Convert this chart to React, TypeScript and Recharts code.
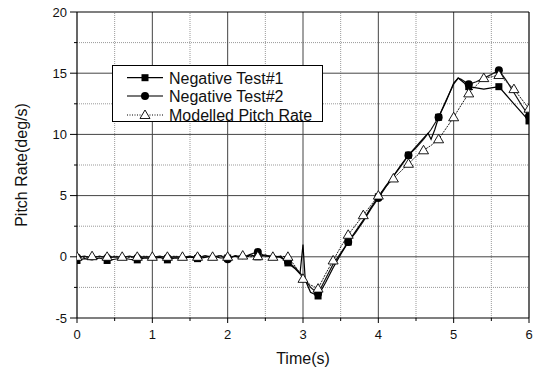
import React from "react";
import {
  ComposedChart,
  Line,
  Scatter,
  XAxis,
  YAxis,
  ReferenceLine,
  Label,
} from "recharts";

const FONT = "Liberation Sans, Arial, sans-serif";
const textStyle = { fontFamily: FONT };

// axis ticks
const X_TICKS = [0, 0.5, 1, 1.5, 2, 2.5, 3, 3.5, 4, 4.5, 5, 5.5, 6];
const Y_TICKS = [-5, -2.5, 0, 2.5, 5, 7.5, 10, 12.5, 15, 17.5, 20];
const X_MAJOR_GRID = [1, 2, 3, 4, 5];
const X_MINOR_GRID = [0.5, 1.5, 2.5, 3.5, 4.5, 5.5];
const Y_MAJOR_GRID = [0, 5, 10, 15];
const Y_MINOR_GRID = [-2.5, 2.5, 7.5, 12.5, 17.5];

// Negative Test#1 (squares)
const TEST1_TIME = [
  0, 0.1, 0.2, 0.3, 0.4, 0.5, 0.6, 0.7, 0.8, 0.9, 1.0, 1.1, 1.2, 1.3, 1.4, 1.5,
  1.6, 1.7, 1.8, 1.9, 2.0, 2.1, 2.2, 2.3, 2.4, 2.5, 2.6, 2.7, 2.8, 2.9, 2.96, 3.0,
  3.03, 3.1, 3.2, 3.3, 3.4, 3.5, 3.6, 3.7, 3.8, 3.9, 4.0, 4.1, 4.2, 4.3, 4.4, 4.5,
  4.6, 4.66, 4.7, 4.75, 4.8, 4.9, 5.0, 5.06, 5.1, 5.2, 5.3, 5.4, 5.5, 5.6, 5.7,
  5.8, 5.9, 6.0,
];
const TEST1 = [
  -0.3, -0.15, -0.25, -0.1, -0.3, -0.2, -0.1, -0.2, -0.25, -0.1, -0.15, -0.05,
  -0.25, -0.1, -0.15, 0, -0.15, -0.05, 0.1, -0.1, -0.1, 0.05, -0.15, 0.15, 0,
  0.15, -0.1, 0.05, -0.5, -1.0, -1.4, 1.0, -1.9, -2.9, -3.2, -2.1, -0.9, 0.2, 1.2,
  2.1, 3.0, 4.0, 4.9, 5.8, 6.6, 7.5, 8.3, 9.0, 9.7, 10.1, 9.6, 10.4, 11.4, 12.7,
  14.2, 14.6, 14.4, 13.9, 13.8, 13.7, 13.8, 13.9, 13.2, 12.5, 11.8, 11.1,
];

// Negative Test#2 (circles)
const TEST2_TIME = [
  0, 0.1, 0.2, 0.3, 0.4, 0.5, 0.6, 0.7, 0.8, 0.9, 1.0, 1.1, 1.2, 1.3, 1.4, 1.5,
  1.6, 1.7, 1.8, 1.9, 2.0, 2.1, 2.2, 2.3, 2.4, 2.5, 2.6, 2.7, 2.8, 2.9, 3.0, 3.1,
  3.2, 3.3, 3.4, 3.5, 3.6, 3.7, 3.8, 3.9, 4.0, 4.1, 4.2, 4.3, 4.4, 4.5, 4.6, 4.7,
  4.8, 4.9, 5.0, 5.06, 5.1, 5.2, 5.3, 5.4, 5.5, 5.6, 5.7, 5.8, 5.9, 6.0,
];
const TEST2 = [
  -0.05, 0.05, -0.1, 0.05, -0.1, 0, -0.05, 0.05, -0.1, 0, -0.05, 0.05, -0.1, 0,
  -0.05, 0.05, -0.1, 0.1, -0.05, 0.1, -0.2, 0.1, -0.05, 0.2, 0.4, 0.05, 0.1,
  -0.05, -0.4, -0.9, -1.6, -2.5, -3.0, -1.8, -0.6, 0.3, 1.2, 2.0, 2.9, 3.9, 4.8,
  5.7, 6.6, 7.4, 8.3, 8.9, 9.6, 10.4, 11.4, 12.8, 14.1, 14.6, 14.5, 14.1, 14.3,
  14.6, 14.9, 15.25, 14.4, 13.4, 12.4, 11.5,
];

// Modelled Pitch Rate (triangles)
const MODEL_TIME = [
  0, 0.1, 0.2, 0.3, 0.4, 0.5, 0.6, 0.7, 0.8, 0.9, 1.0, 1.1, 1.2, 1.3, 1.4, 1.5,
  1.6, 1.7, 1.8, 1.9, 2.0, 2.1, 2.2, 2.3, 2.4, 2.5, 2.6, 2.7, 2.8, 2.9, 3.0, 3.1,
  3.2, 3.3, 3.4, 3.5, 3.6, 3.7, 3.8, 3.9, 4.0, 4.1, 4.2, 4.3, 4.4, 4.5, 4.6, 4.7,
  4.8, 4.9, 5.0, 5.1, 5.2, 5.3, 5.4, 5.5, 5.6, 5.7, 5.8, 5.9, 6.0,
];
const MODEL = [
  0, -0.05, 0.05, 0, 0, 0.05, 0, -0.05, 0, 0.05, 0, 0, 0, 0.05, 0, -0.05, 0,
  0.05, 0, 0.1, 0, 0.05, 0.1, 0, 0.05, 0.1, 0, 0.05, 0, -0.8, -1.8, -2.3, -2.6,
  -1.4, -0.3, 0.8, 1.8, 2.6, 3.4, 4.2, 5.0, 5.7, 6.4, 7.0, 7.6, 8.2, 8.7, 9.1,
  9.6, 10.5, 11.4, 12.4, 13.35, 14.0, 14.6, 14.7, 14.85, 14.3, 13.7, 12.9, 12.1,
];

const toPoints = (times: number[], values: number[]) =>
  times.map((t, i) => ({ t, v: values[i] }));

const onStep = (t: number, step: number) =>
  Math.abs(t / step - Math.round(t / step)) < 1e-6;

const test1Data = toPoints(TEST1_TIME, TEST1);
const test2Data = toPoints(TEST2_TIME, TEST2);
const modelData = toPoints(MODEL_TIME, MODEL);

const test1Marks = test1Data.filter((p) => onStep(p.t, 0.4));
const test2Marks = test2Data.filter((p) => onStep(p.t, 0.4));
const modelMarks = modelData.filter((p) => onStep(p.t, 0.2));

const SquareMark = ({ cx, cy }: any) => (
  <rect x={cx - 3.5} y={cy - 3.5} width={7} height={7} fill="#000" />
);
const CircleMark = ({ cx, cy }: any) => <circle cx={cx} cy={cy} r={4} fill="#000" />;
const TriangleMark = ({ cx, cy }: any) => (
  <path
    d={`M${cx},${cy - 5}L${cx + 5},${cy + 3.5}L${cx - 5},${cy + 3.5}Z`}
    fill="#fff"
    stroke="#000"
    strokeWidth={0.9}
  />
);

const XTick = ({ x, y, payload }: any) => {
  const major = Number.isInteger(payload.value);
  return (
    <g>
      <line x1={x} x2={x} y1={y} y2={y + (major ? 5 : 3)} stroke="#000" />
      {major && (
        <text x={x} y={y + 21} textAnchor="middle" fontSize={13} style={textStyle} fill="#111">
          {payload.value}
        </text>
      )}
    </g>
  );
};

const YTick = ({ x, y, payload }: any) => {
  const major = payload.value % 5 === 0;
  return (
    <g>
      <line x1={x - (major ? 7 : 3)} x2={x} y1={y} y2={y} stroke="#000" />
      {major && (
        <text x={x - 10} y={y + 4.5} textAnchor="end" fontSize={13} style={textStyle} fill="#111">
          {payload.value}
        </text>
      )}
    </g>
  );
};

const XTitle = () => (
  <text x={303} y={364} textAnchor="middle" fontSize={16} style={textStyle} fill="#111">
    Time(s)
  </text>
);

const YTitle = () => (
  <text
    x={0}
    y={0}
    transform="translate(27,165) rotate(-90)"
    textAnchor="middle"
    fontSize={16}
    style={textStyle}
    fill="#111"
  >
    Pitch Rate(deg/s)
  </text>
);

function LegendBox() {
  const rows = [
    { label: "Negative Test#1", y: 11.7 },
    { label: "Negative Test#2", y: 30 },
    { label: "Modelled Pitch Rate", y: 49 },
  ];
  return (
    <div
      style={{
        position: "absolute",
        left: 112,
        top: 65,
        width: 209,
        height: 55,
        border: "1px solid #000",
        background: "#fff",
      }}
    >
      <svg width={209} height={55} style={{ display: "block", overflow: "visible" }}>
        <line x1={14} x2={50} y1={rows[0].y} y2={rows[0].y} stroke="#000" strokeWidth={1.2} />
        <SquareMark cx={32} cy={rows[0].y} />
        <line x1={14} x2={50} y1={rows[1].y} y2={rows[1].y} stroke="#777" strokeWidth={2} />
        <CircleMark cx={32} cy={rows[1].y} />
        <line
          x1={14}
          x2={50}
          y1={rows[2].y}
          y2={rows[2].y}
          stroke="#000"
          strokeWidth={1}
          strokeDasharray="1 1.5"
        />
        <TriangleMark cx={32} cy={rows[2].y} />
        {rows.map((r) => (
          <text key={r.label} x={56} y={r.y + 5.8} fontSize={16} style={textStyle} fill="#111">
            {r.label}
          </text>
        ))}
      </svg>
    </div>
  );
}

export default function App() {
  return (
    <div style={{ position: "absolute", left: 0, top: 0, width: 537, height: 370, background: "#fff" }}>
      <ComposedChart width={537} height={370} margin={{ top: 12, right: 8, left: 0, bottom: 0 }}>
        <XAxis
          type="number"
          dataKey="t"
          domain={[0, 6]}
          ticks={X_TICKS}
          interval={0}
          tickSize={0}
          tickMargin={0}
          tickLine={false}
          tick={<XTick />}
          height={52}
          axisLine={{ stroke: "#000", strokeWidth: 1.2 }}
          allowDataOverflow
        >
          <Label content={<XTitle />} />
        </XAxis>
        <YAxis
          type="number"
          dataKey="v"
          domain={[-5, 20]}
          ticks={Y_TICKS}
          interval={0}
          tickSize={0}
          tickMargin={0}
          tickLine={false}
          tick={<YTick />}
          width={77}
          axisLine={{ stroke: "#000", strokeWidth: 1.2 }}
          allowDataOverflow
        >
          <Label content={<YTitle />} />
        </YAxis>

        {X_MINOR_GRID.map((x) => (
          <ReferenceLine key={`xm${x}`} x={x} stroke="#999" strokeDasharray="1 1" />
        ))}
        {Y_MINOR_GRID.map((y) => (
          <ReferenceLine key={`ym${y}`} y={y} stroke="#999" strokeDasharray="1 1" />
        ))}
        {X_MAJOR_GRID.map((x) => (
          <ReferenceLine key={`xM${x}`} x={x} stroke="#444" />
        ))}
        {Y_MAJOR_GRID.map((y) => (
          <ReferenceLine key={`yM${y}`} y={y} stroke="#444" />
        ))}
        <ReferenceLine y={20} stroke="#000" strokeWidth={1.2} />
        <ReferenceLine x={6} stroke="#000" strokeWidth={1.2} />

        <Line
          data={modelData}
          dataKey="v"
          type="linear"
          stroke="#000"
          strokeWidth={0.9}
          strokeDasharray="2 1"
          dot={false}
          isAnimationActive={false}
        />
        <Line
          data={test2Data}
          dataKey="v"
          type="linear"
          stroke="#111"
          strokeWidth={1.2}
          dot={false}
          isAnimationActive={false}
        />
        <Line
          data={test1Data}
          dataKey="v"
          type="linear"
          stroke="#000"
          strokeWidth={1.2}
          dot={false}
          isAnimationActive={false}
        />
        <Scatter data={test1Marks} dataKey="v" shape={<SquareMark />} isAnimationActive={false} />
        <Scatter data={test2Marks} dataKey="v" shape={<CircleMark />} isAnimationActive={false} />
        <Scatter data={modelMarks} dataKey="v" shape={<TriangleMark />} isAnimationActive={false} />
      </ComposedChart>
      <LegendBox />
    </div>
  );
}
